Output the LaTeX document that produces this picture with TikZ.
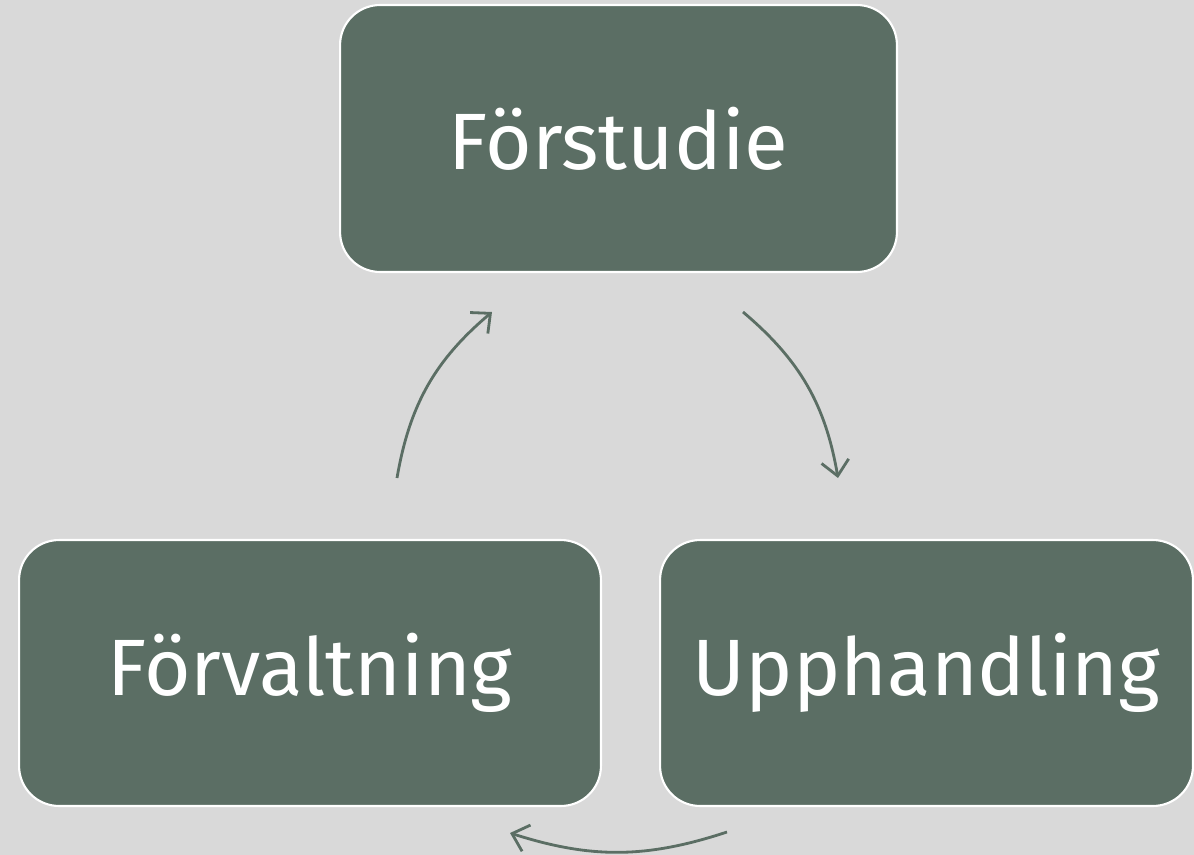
\documentclass[tikz,border=0pt]{standalone}
\usepackage{fontspec}
\setmainfont{Fira Sans}
\usetikzlibrary{arrows.meta}

\definecolor{sage}{HTML}{5B6E64}
\definecolor{paper}{HTML}{D9D9D9}

\tikzset{
    phase/.style={draw=white, line width=1.2pt, fill=sage, text=white,
        rounded corners=0.8cm, font=\fontsize{45.5}{54}\selectfont},
    loopline/.style={draw=sage, line width=1.6pt,
        -{Straight Barb[length=3mm,width=5.5mm,line width=1.6pt]}}
}

\begin{document}
\begin{tikzpicture}[x=0.02cm, y=-0.02cm]
\fill[paper] (0,0) rectangle (1194,855);
\useasboundingbox (0,0) rectangle (1194,855);

\node (forstudie) at (618.5,138.5) [phase, minimum width=11.14cm, minimum height=5.34cm] {Förstudie};
\node (upphandling) at (926.5,673) [phase, minimum width=10.66cm, minimum height=5.32cm] {Upphandling};
\node (forvaltning) at (310,673) [phase, minimum width=11.64cm, minimum height=5.32cm] {Förvaltning};

\coordinate (a1) at (743,312);
\coordinate (a2) at (838,478);
\coordinate (b1) at (727,832);
\coordinate (b2) at (510,833);
\coordinate (c1) at (397,478);
\coordinate (c2) at (492,312);

\path
    (a1) edge[loopline, bend left=20] (a2)
    (b1) edge[loopline, bend left=18] (b2)
    (c1) edge[loopline, bend left=20] (c2);
\end{tikzpicture}
\end{document}
